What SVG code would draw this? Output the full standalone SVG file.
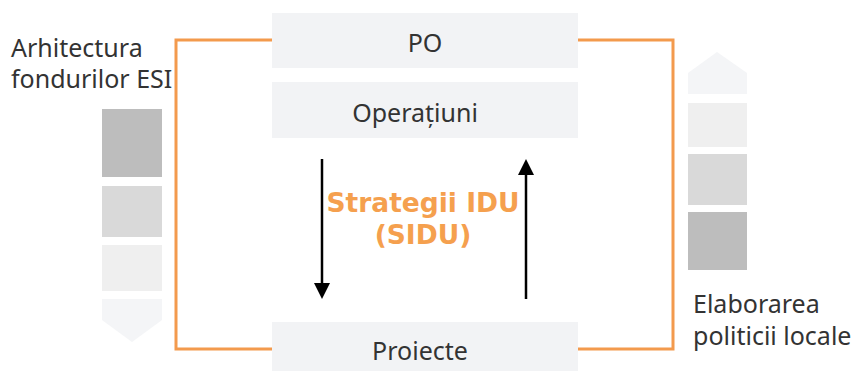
<svg xmlns="http://www.w3.org/2000/svg" width="860" height="371" viewBox="0 0 860 371">
  <defs>
    <style>
      .box { fill: #f2f3f5; }
      .lbl { font-family: "Noto Sans", "Open Sans", sans-serif; font-size: 25px; fill: #333; }
      .mid { text-anchor: middle; }
      .strat { font-family: "DejaVu Sans", "Noto Sans", sans-serif; font-weight: bold; font-size: 26.5px; fill: #f5a04e; text-anchor: middle; }
      .frame { fill: none; stroke: #f39a4d; stroke-width: 3; }
      .flow { stroke: #000; stroke-width: 2.5; fill: none; }
      .head { fill: #000; }
    </style>
  </defs>
  <rect width="860" height="371" fill="#fff"/>

  <!-- orange frame linking the levels, plus the two flow arrows -->
  <g id="connectors">
    <polyline class="frame" points="272,40 176,40 176,349 272,349"/>
    <polyline class="frame" points="578,40 673,40 673,349 578,349"/>
    <line class="flow" x1="322" y1="159" x2="322" y2="286"/>
    <polygon class="head" points="314,283 330,283 322,299"/>
    <line class="flow" x1="526" y1="299" x2="526" y2="172"/>
    <polygon class="head" points="518,175 534,175 526,159"/>
  </g>

  <g id="po">
    <rect class="box" x="272" y="13" width="306" height="55"/>
    <text class="lbl mid" x="425" y="52">PO</text>
  </g>
  <g id="operatiuni">
    <rect class="box" x="272" y="82" width="306" height="56"/>
    <text class="lbl mid" x="415" y="122">Operațiuni</text>
  </g>
  <g id="proiecte">
    <rect class="box" x="272" y="322" width="306" height="49"/>
    <text class="lbl mid" x="420" y="360">Proiecte</text>
  </g>

  <g id="sidu">
    <text class="strat" x="423" y="212">Strategii IDU</text>
    <text class="strat" x="423" y="244">(SIDU)</text>
  </g>

  <!-- left stack: EU funds architecture, top-down -->
  <g id="arhitectura">
    <text class="lbl" x="11" y="57">Arhitectura</text>
    <text class="lbl" x="11" y="88">fondurilor ESI</text>
    <rect x="102" y="109" width="60" height="68" fill="#bdbdbd"/>
    <rect x="102" y="186" width="60" height="51" fill="#d9d9d9"/>
    <rect x="102" y="245" width="60" height="46" fill="#efefef"/>
    <polygon points="102,299 162,299 162,320 132,342 102,320" fill="#f4f5f7"/>
  </g>

  <!-- right stack: local policy making, bottom-up -->
  <g id="elaborare">
    <polygon points="688,73 717,52 747,73 747,94 688,94" fill="#f4f5f7"/>
    <rect x="688" y="103" width="59" height="44" fill="#efefef"/>
    <rect x="688" y="154" width="59" height="51" fill="#d9d9d9"/>
    <rect x="688" y="212" width="59" height="58" fill="#bdbdbd"/>
    <text class="lbl" x="693" y="313">Elaborarea</text>
    <text class="lbl" x="693" y="345">politicii locale</text>
  </g>
</svg>
